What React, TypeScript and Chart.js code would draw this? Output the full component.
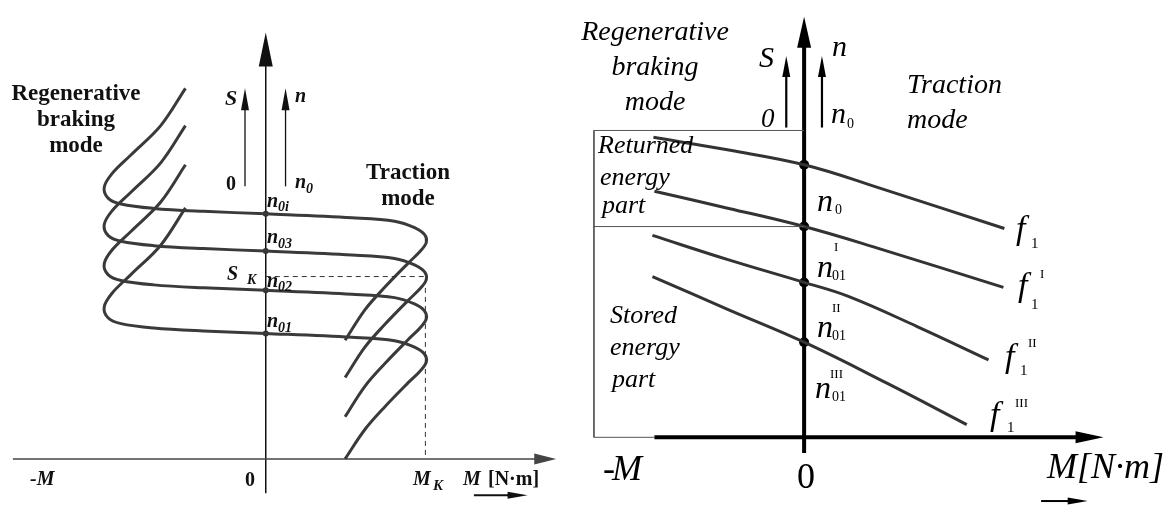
import { useEffect, useRef } from "react";
import { Chart, registerables } from "chart.js";

Chart.register(...registerables);

// ---------- Left diagram: mechanical characteristics (M_K = 10, n in arbitrary units) ----------
const leftCurveM = [-5.03, -6.58, -8.45, -9.63, -10.12, -9.88, -9.07, -7.02, -3.91, 0, 5.4, 8.07, 9.32, 9.94, 10.06, 9.69, 8.94, 7.45, 6.21, 4.97];
const curveN0i = [37.8, 34.0, 31.0, 29.1, 27.7, 26.6, 26.0, 25.55, 25.25, 25.0, 24.6, 24.25, 23.6, 22.9, 22.1, 21.2, 20.0, 17.5, 15.2, 12.1];
const curveN03 = [34.0, 30.2, 27.2, 25.3, 23.9, 22.8, 22.2, 21.75, 21.45, 21.2, 20.8, 20.45, 19.8, 19.1, 18.3, 17.4, 16.2, 13.7, 11.4, 8.3];
const curveN02 = [30.0, 26.2, 23.2, 21.3, 19.9, 18.8, 18.2, 17.75, 17.45, 17.2, 16.8, 16.45, 15.8, 15.1, 14.3, 13.4, 12.2, 9.7, 7.4, 4.3];
const curveN01 = [25.6, 21.8, 18.8, 16.9, 15.5, 14.4, 13.8, 13.35, 13.05, 12.8, 12.4, 12.05, 11.4, 10.7, 9.9, 9.0, 7.8, 5.3, 3.0, 0.0];
const leftIdleN = [25.0, 21.2, 17.2, 12.8];
const criticalM = 10;
const criticalS = 18.6;

// ---------- Right diagram: characteristics for frequencies f1, f1^I, f1^II, f1^III ----------
const f1M = [-15.2, -7.6, 0, 7.4, 20.2];
const f1N = [30.6, 29.3, 27.8, 25.5, 21.3];
const f1IM = [-15.1, -7.6, 0, 7.4, 20.1];
const f1IN = [25.1, 23.35, 21.5, 19.3, 15.3];
const f1IIM = [-15.3, -7.6, 0, 4.4, 11.4, 18.6];
const f1IIN = [20.6, 18.1, 15.8, 14.4, 11.3, 7.9];
const f1IIIM = [-15.3, -7.6, 0, 8.4, 16.4];
const f1IIIN = [16.4, 13.0, 9.7, 5.5, 1.3];
const rightIdleN = [27.8, 21.5, 15.8, 9.7];
const zoneLeftM = -21.2;
const zoneTopN = 31.3;
const zoneSplitN = 21.5;
const axisStartM = -15.1;

const W = 1171;
const H = 508;
const FAM = '"Liberation Serif", "Times New Roman", serif';

const pts = (xs: number[], ys: number[]) => xs.map((x, i) => ({ x, y: ys[i] }));

function arrow(ctx: CanvasRenderingContext2D, x1: number, y1: number, x2: number, y2: number, lw: number, head: number, half: number, color: string) {
  const ang = Math.atan2(y2 - y1, x2 - x1);
  const bx = x2 - Math.cos(ang) * head;
  const by = y2 - Math.sin(ang) * head;
  ctx.save();
  ctx.strokeStyle = color;
  ctx.fillStyle = color;
  ctx.lineWidth = lw;
  ctx.beginPath();
  ctx.moveTo(x1, y1);
  ctx.lineTo(bx + Math.cos(ang) * 2, by + Math.sin(ang) * 2);
  ctx.stroke();
  ctx.beginPath();
  ctx.moveTo(x2, y2);
  ctx.lineTo(bx - Math.sin(ang) * half, by + Math.cos(ang) * half);
  ctx.lineTo(bx + Math.sin(ang) * half, by - Math.cos(ang) * half);
  ctx.closePath();
  ctx.fill();
  ctx.restore();
}

function txt(ctx: CanvasRenderingContext2D, t: string, x: number, y: number, font: string, align: CanvasTextAlign = "left") {
  ctx.font = font;
  ctx.textAlign = align;
  ctx.fillText(t, x, y);
}

const decoPlugin = {
  id: "deco",
  beforeDatasetsDraw(chart: any) {
    const ctx: CanvasRenderingContext2D = chart.ctx;
    const s = chart.scales;
    const lx = (v: number) => s.xL.getPixelForValue(v);
    const ly = (v: number) => s.yL.getPixelForValue(v);
    const rx = (v: number) => s.xR.getPixelForValue(v);
    const ry = (v: number) => s.yR.getPixelForValue(v);
    // left axes
    arrow(ctx, lx(0), ly(-3.5), lx(0), ly(43.5), 1.5, 34, 7, "#111");
    arrow(ctx, lx(-15.84), ly(0), lx(18.2), ly(0), 1.5, 22, 5.5, "#444");
    arrow(ctx, lx(-1.3), ly(27.8), lx(-1.3), ly(37.8), 1.3, 22, 4, "#111");
    arrow(ctx, lx(1.24), ly(27.8), lx(1.24), ly(37.8), 1.3, 22, 4, "#111");
    arrow(ctx, lx(13.04), ly(-3.7), lx(16.4), ly(-3.7), 2, 20, 3.5, "#111");
    // right axes
    arrow(ctx, rx(-1.8), ry(31.6), rx(-1.8), ry(38.9), 2.2, 21, 4, "#000");
    arrow(ctx, rx(1.8), ry(31.6), rx(1.8), ry(38.9), 2.2, 21, 4, "#000");
    arrow(ctx, rx(axisStartM), ry(0), rx(30.2), ry(0), 4, 28, 6, "#000");
    arrow(ctx, rx(0), ry(-1.6), rx(0), ry(42.9), 4, 31, 7, "#000");
    arrow(ctx, rx(23.9), ry(-6.5), rx(28.6), ry(-6.5), 2, 20, 3.5, "#000");
  },
  afterDatasetsDraw(chart: any) {
    const ctx: CanvasRenderingContext2D = chart.ctx;
    ctx.save();
    ctx.fillStyle = "#111";
    ctx.textBaseline = "alphabetic";
    const b23 = `bold 23px ${FAM}`;
    const bi20 = `italic bold 20px ${FAM}`;
    const bi22 = `italic bold 22px ${FAM}`;
    const bi14 = `italic bold 14px ${FAM}`;
    const b20 = `bold 20px ${FAM}`;
    // left panel
    txt(ctx, "Regenerative", 76, 100, b23, "center");
    txt(ctx, "braking", 76, 126, b23, "center");
    txt(ctx, "mode", 76, 152, b23, "center");
    txt(ctx, "Traction", 408, 179, b23, "center");
    txt(ctx, "mode", 408, 205, b23, "center");
    txt(ctx, "S", 225, 105, bi22);
    txt(ctx, "0", 226, 190, b20);
    txt(ctx, "n", 295, 102, bi20);
    txt(ctx, "n", 295, 188, bi20);
    txt(ctx, "0", 306, 193, bi14);
    const nl: [string, number, number][] = [["0i", 207, 211], ["03", 243, 248], ["02", 287, 291], ["01", 327, 332]];
    nl.forEach(([sub, b, sb]) => {
      txt(ctx, "n", 267, b, bi20);
      txt(ctx, sub, 278, sb, bi14);
    });
    txt(ctx, "S", 227, 280, bi20);
    txt(ctx, "K", 247, 284, bi14);
    txt(ctx, "-M", 30, 485, bi20);
    txt(ctx, "0", 245, 486, b20);
    txt(ctx, "M", 413, 485, bi20);
    txt(ctx, "K", 433, 490, `italic bold 15px ${FAM}`);
    txt(ctx, "M", 463, 485, bi20);
    txt(ctx, "[N·m]", 488, 485, b20);

    // right panel
    const i28 = `italic 28px ${FAM}`;
    const i27 = `italic 27px ${FAM}`;
    const i26 = `italic 26px ${FAM}`;
    const i30 = `italic 30px ${FAM}`;
    const i32 = `italic 32px ${FAM}`;
    const i34 = `italic 34px ${FAM}`;
    const i36 = `italic 36px ${FAM}`;
    const r14 = `14px ${FAM}`;
    const r13 = `13px ${FAM}`;
    ctx.fillStyle = "#000";
    txt(ctx, "Regenerative", 655, 40, i28, "center");
    txt(ctx, "braking", 655, 75, i28, "center");
    txt(ctx, "mode", 655, 110, i28, "center");
    txt(ctx, "S", 759, 67, i30);
    txt(ctx, "0", 761, 127, i27);
    txt(ctx, "n", 832, 56, i30);
    txt(ctx, "n", 831, 123, i30);
    txt(ctx, "0", 847, 128, r14);
    txt(ctx, "Traction", 907, 93, i28);
    txt(ctx, "mode", 907, 128, i28);
    txt(ctx, "Returned", 598, 153, i26);
    txt(ctx, "energy", 600, 185, i26);
    txt(ctx, "part", 602, 213, i26);
    txt(ctx, "Stored", 610, 323, i26);
    txt(ctx, "energy", 610, 355, i26);
    txt(ctx, "part", 612, 387, i26);
    txt(ctx, "n", 817, 211, i32);
    txt(ctx, "0", 835, 214, r14);
    const nr: [string, number, number, number, number][] = [["I", 277, 251, 834, 817], ["II", 337, 312, 832, 817], ["III", 398, 378, 830, 815]];
    nr.forEach(([sup, b, sb, sx, nx]) => {
      txt(ctx, "n", nx, b, i32);
      txt(ctx, sup, sx, sb, r13);
      txt(ctx, "01", 832, b + 3, r14);
    });
    const fl: [string, number, number, number, number, number, number][] = [
      ["", 1016, 239, 0, 0, 1031, 248],
      ["I", 1018, 296, 1040, 278, 1031, 309],
      ["II", 1005, 367, 1028, 347, 1020, 375],
      ["III", 990, 425, 1015, 407, 1007, 432],
    ];
    fl.forEach(([sup, fx, fb, sx, sb, ix, ib]) => {
      txt(ctx, "f", fx, fb, i34);
      if (sup) txt(ctx, sup, sx, sb, r13);
      txt(ctx, "1", ix, ib, `15px ${FAM}`);
    });
    txt(ctx, "-", 603, 480, `36px ${FAM}`);
    txt(ctx, "M", 612, 480, i36);
    txt(ctx, "0", 797, 488, `36px ${FAM}`);
    txt(ctx, "M[N·m]", 1047, 478, i36);
    ctx.restore();
  },
};

export default function App() {
  const ref = useRef<HTMLCanvasElement | null>(null);
  useEffect(() => {
    if (!ref.current) return;
    // Left scales: origin at (263, 463) px, 16.1 px per M unit, 10 px per n unit
    const lox = 263, loy = 463, lkx = 16.1, lky = 10;
    // Right scales: origin at (806, 441) px, 10 px per unit
    const rox = 806, roy = 441, rk = 10;
    const curve = (ys: number[]) => ({
      data: pts(leftCurveM, ys),
      xAxisID: "xL",
      yAxisID: "yL",
      showLine: true,
      borderColor: "#3a3a3a",
      borderWidth: 3,
      tension: 0.35,
      pointRadius: 0,
    });
    const rline = (xs: number[], ys: number[]) => ({
      data: pts(xs, ys),
      xAxisID: "xR",
      yAxisID: "yR",
      showLine: true,
      borderColor: "#333",
      borderWidth: 3,
      tension: 0.4,
      pointRadius: 0,
    });
    const chart = new Chart(ref.current, {
      type: "scatter",
      data: {
        datasets: [
          {
            data: [{ x: 0, y: criticalS }, { x: criticalM, y: criticalS }, { x: criticalM, y: 0 }],
            xAxisID: "xL", yAxisID: "yL", showLine: true, borderColor: "#333", borderWidth: 1,
            borderDash: [5, 4], pointRadius: 0, tension: 0,
          },
          curve(curveN0i),
          curve(curveN03),
          curve(curveN02),
          curve(curveN01),
          {
            data: leftIdleN.map((n) => ({ x: 0, y: n })),
            xAxisID: "xL", yAxisID: "yL", pointRadius: 3, backgroundColor: "#333", borderWidth: 0,
          },
          {
            data: [{ x: 0, y: zoneTopN }, { x: zoneLeftM, y: zoneTopN }, { x: zoneLeftM, y: 0 }, { x: axisStartM, y: 0 }],
            xAxisID: "xR", yAxisID: "yR", showLine: true, borderColor: "#555", borderWidth: 1, pointRadius: 0, tension: 0,
          },
          {
            data: [{ x: zoneLeftM, y: zoneSplitN }, { x: 0, y: zoneSplitN }],
            xAxisID: "xR", yAxisID: "yR", showLine: true, borderColor: "#555", borderWidth: 1, pointRadius: 0, tension: 0,
          },
          rline(f1M, f1N),
          rline(f1IM, f1IN),
          rline(f1IIM, f1IIN),
          rline(f1IIIM, f1IIIN),
          {
            data: rightIdleN.map((n) => ({ x: 0, y: n })),
            xAxisID: "xR", yAxisID: "yR", pointRadius: 5, backgroundColor: "#000", borderWidth: 0,
          },
        ],
      },
      options: {
        animation: false,
        responsive: false,
        events: [],
        layout: { padding: 0 },
        plugins: { legend: { display: false }, tooltip: { enabled: false } },
        scales: {
          xL: { type: "linear", display: false, min: -lox / lkx, max: (W - lox) / lkx },
          yL: { type: "linear", display: false, min: -(H - loy) / lky, max: loy / lky },
          xR: { type: "linear", display: false, min: -rox / rk, max: (W - rox) / rk },
          yR: { type: "linear", display: false, min: -(H - roy) / rk, max: roy / rk },
        },
      },
      plugins: [decoPlugin],
    } as any);
    return () => chart.destroy();
  }, []);
  return (
    <div style={{ position: "fixed", left: 0, top: 0, width: W, height: H, background: "#fff" }}>
      <canvas ref={ref} width={W} height={H} style={{ display: "block" }} />
    </div>
  );
}
